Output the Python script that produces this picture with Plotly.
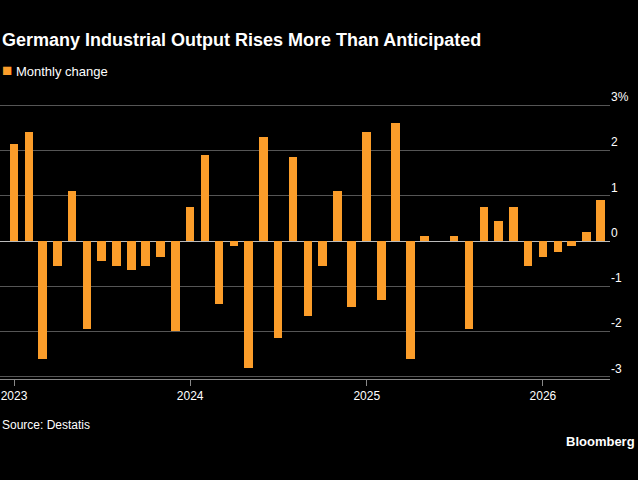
import plotly.graph_objects as go
import pandas as pd

months = pd.date_range("2023-01-01", periods=41, freq="MS")
values = [2.15, 2.4, -2.6, -0.55, 1.1, -1.95, -0.45, -0.55, -0.65, -0.55, -0.35, -2.0,
          0.75, 1.9, -1.4, -0.1, -2.8, 2.3, -2.15, 1.85, -1.65, -0.55, 1.1, -1.45,
          2.4, -1.3, 2.6, -2.6, 0.1, 0.0, 0.1, -1.95, 0.75, 0.45, 0.75, -0.55,
          -0.35, -0.25, -0.1, 0.2, 0.9]
tick_vals = [-3, -2, -1, 0, 1, 2, 3]
tick_text = ["-3", "-2", "-1", "0", "1", "2", "3%"]
year_ticks = ["2023-01-01", "2024-01-01", "2025-01-01", "2026-01-01"]
year_labels = ["2023", "2024", "2025", "2026"]
series_name = "Monthly change"
bar_color = "#fb9d2a"

fig = go.Figure(go.Bar(x=months, y=values, marker_color=bar_color, marker_line_width=0,
                       width=1000*3600*24*18, name=series_name, showlegend=False))
fig.update_layout(
    width=638, height=480, paper_bgcolor="black", plot_bgcolor="black",
    font=dict(family="Liberation Sans, Arial", color="white", size=12),
    margin=dict(l=0, r=28, t=103, b=101),
    title=dict(text="<b>Germany Industrial Output Rises More Than Anticipated</b>",
               x=0.003, xanchor="left", y=0.93, yanchor="top", font=dict(size=18)),
    bargap=0,
)
fig.update_xaxes(range=["2022-12-03", "2026-05-20"], tickvals=year_ticks, ticktext=year_labels,
                 ticks="outside", ticklen=6, tickcolor="#888", showgrid=False, showline=True,
                 linecolor="#888", tickfont=dict(size=12), zeroline=False)
fig.update_yaxes(side="right", range=[-3.05, 3.05], tickvals=tick_vals, ticktext=tick_text,
                 gridcolor="#555", zeroline=True, zerolinecolor="#bbb", zerolinewidth=1,
                 tickfont=dict(size=12), ticklabelposition="outside top", ticks="")
fig.add_annotation(text=f"<span style='color:{bar_color};font-size:17px'>■</span> {series_name}",
                   x=0, xref="paper", y=1.16, yref="paper", xanchor="left",
                   showarrow=False, font=dict(size=13, color="white"))
fig.add_annotation(text="Source: Destatis", x=0, xref="paper", y=-0.2, yref="paper",
                   xanchor="left", showarrow=False, font=dict(size=12, color="white"))
fig.add_annotation(text="<b>Bloomberg</b>", x=1.045, xref="paper", y=-0.262, yref="paper",
                   xanchor="right", showarrow=False, font=dict(size=13, color="white"))
fig.write_html("out.html", config={"displayModeBar": False},
               post_script="document.body.style.margin='0';document.body.style.background='black';")
